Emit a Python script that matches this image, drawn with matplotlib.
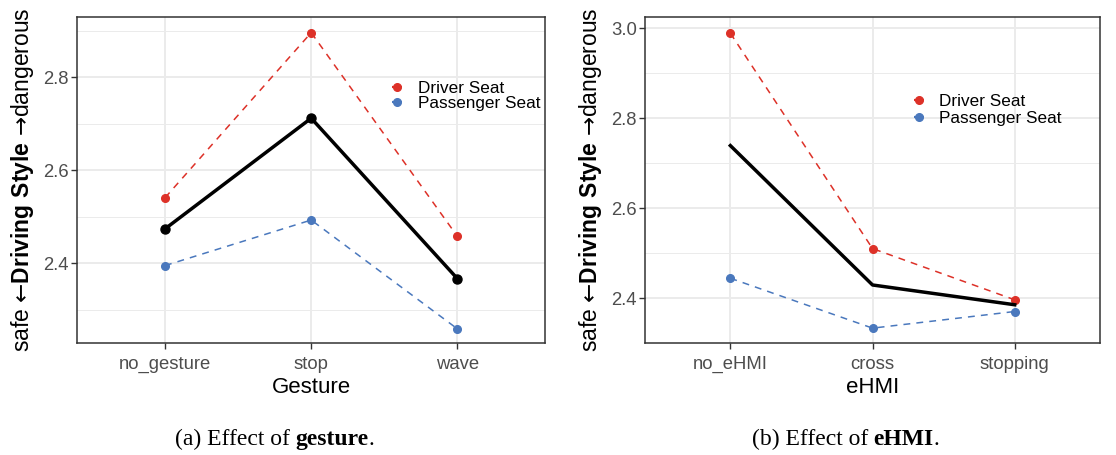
import matplotlib
matplotlib.use('Agg')
import matplotlib.pyplot as plt
from matplotlib.offsetbox import TextArea, HPacker, AnchoredOffsetbox

plt.rcParams['font.family'] = ['Liberation Sans', 'DejaVu Sans']
plt.rcParams['mathtext.fontset'] = 'custom'
plt.rcParams['mathtext.rm'] = 'DejaVu Sans'
plt.rcParams['mathtext.bf'] = 'Liberation Sans:bold'

# data
gesture_levels = ['no_gesture', 'stop', 'wave']
gesture_driver = [2.541, 2.896, 2.458]
gesture_passenger = [2.395, 2.493, 2.259]
gesture_mean = [2.474, 2.712, 2.367]

ehmi_levels = ['no_eHMI', 'cross', 'stopping']
ehmi_driver = [2.989, 2.510, 2.396]
ehmi_passenger = [2.444, 2.333, 2.370]
ehmi_mean = [2.739, 2.429, 2.385]

series_names = ['Driver Seat', 'Passenger Seat']
red = '#dd3128'
blue = '#4a78bd'
ylab = 'safe $\u2190\\mathbf{Driving\\ Style}$ $\u2192$dangerous'

fig = plt.figure(figsize=(11.16, 4.55), dpi=100)
ax1 = fig.add_axes([0.0693, 0.2462, 0.4191, 0.7158])
ax2 = fig.add_axes([0.5780, 0.2462, 0.4077, 0.7158])

panels = [
    (ax1, gesture_levels, gesture_driver, gesture_passenger, gesture_mean, 'Gesture',
     (2.2286, 2.929), [2.4, 2.6, 2.8], [2.3, 2.5, 2.7, 2.9], True, (0.683, 0.728), (0.787, 0.739)),
    (ax2, ehmi_levels, ehmi_driver, ehmi_passenger, ehmi_mean, 'eHMI',
     (2.3017, 3.0244), [2.4, 2.6, 2.8, 3.0], [2.3, 2.5, 2.7, 2.9], False, (0.603, 0.647), (0.746, 0.695)),
]

for ax, levels, drv, pas, mean, xlabel, ylim, yt, ymin, mean_pts, lx, ly in panels:
    x = list(range(len(levels)))
    ax.plot(x, drv, color=red, lw=1.1, ls=(0, (4.5, 4)), marker='o', ms=5.5, zorder=3)
    ax.plot(x, pas, color=blue, lw=1.1, ls=(0, (4.5, 4)), marker='o', ms=5.5, zorder=3)
    if mean_pts:
        ax.plot(x, mean, color='black', lw=2.5, marker='o', ms=6.5, zorder=4)
    else:
        ax.plot(x, mean, color='black', lw=2.5, zorder=4)

    ax.set_xlim(-0.6, 2.6)
    ax.set_ylim(*ylim)
    ax.set_xticks(x)
    ax.set_xticklabels(levels)
    ax.set_yticks(yt)
    ax.set_yticklabels(['%.1f' % v for v in yt])
    ax.set_yticks(ymin, minor=True)
    ax.set_axisbelow(True)
    ax.grid(which='major', color='#EBEBEB', lw=1.4)
    ax.grid(which='minor', axis='y', color='#EBEBEB', lw=0.7)
    ax.tick_params(which='major', length=4, width=1.0, color='#333333',
                   labelsize=13.3, labelcolor='#4D4D4D', pad=2)
    ax.tick_params(axis='x', which='major', pad=5.5)
    ax.tick_params(which='minor', length=0)
    for sp in ax.spines.values():
        sp.set_color('#333333')
        sp.set_linewidth(1.1)

    ax.set_xlabel(xlabel, fontsize=16, labelpad=2.5)
    ax.set_ylabel(ylab, fontsize=16.5, labelpad=5)

    # legend keys
    for name, col, yy in zip(series_names, [red, blue], ly):
        ax.plot([lx[0] - 0.011, lx[0] + 0.011], [yy, yy], color=col, lw=1.6,
                transform=ax.transAxes, solid_capstyle='butt')
        ax.plot([lx[0]], [yy], 'o', color=col, ms=5.5, transform=ax.transAxes)
        ax.text(lx[1], yy, name, transform=ax.transAxes, fontsize=12.3,
                va='center_baseline', ha='left')

# captions below the panels: "(a) Effect of" + bold word + "."
serif = dict(family='Liberation Serif', fontsize=17)
captions = [('(a) Effect of', 'gesture', 0.246), ('(b) Effect of', 'eHMI', 0.7576)]
for plain, bold, cx in captions:
    word = HPacker(children=[TextArea(bold, textprops=dict(serif, weight='bold')),
                             TextArea('.', textprops=serif)],
                   sep=0, pad=0, align='baseline')
    line = HPacker(children=[TextArea(plain, textprops=serif), word],
                   sep=4, pad=0, align='baseline')
    anc = AnchoredOffsetbox(loc='center', child=line, pad=0, borderpad=0, frameon=False,
                            bbox_to_anchor=(cx, 0.035), bbox_transform=fig.transFigure)
    fig.add_artist(anc)

fig.savefig('out.png', dpi=100)
